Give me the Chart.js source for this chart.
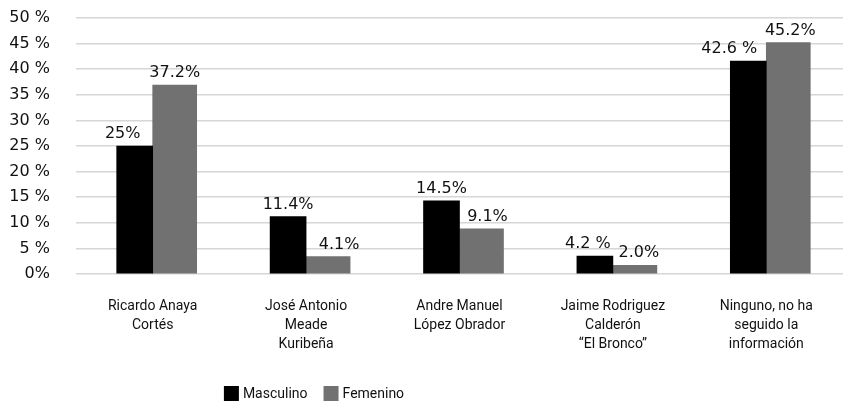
<!DOCTYPE html>
<html>
<head>
<meta charset="utf-8">
<script src="https://cdn.jsdelivr.net/npm/chart.js"></script>
<style>
  html, body { margin: 0; padding: 0; background: #fff; overflow: hidden; }
  #wrap { width: 844px; height: 401px; }
</style>
</head>
<body>
<div id="wrap"><canvas id="chart" width="844" height="401"></canvas></div>
<script>
// candidates (multi-line category labels)
const candidates = [
  ['Ricardo Anaya', 'Cortés'],
  ['José Antonio', 'Meade', 'Kuribeña'],
  ['Andre Manuel', 'López Obrador'],
  ['Jaime Rodriguez', 'Calderón', '\u201cEl Bronco\u201d'],
  ['Ninguno, no ha', 'seguido la', 'información']
];

// bar heights as drawn in the picture (%)
const masculino = [25, 11.2, 14.3, 3.5, 41.6];
const femenino = [36.9, 3.4, 8.8, 1.7, 45.2];

// printed value labels
const masculinoLabels = ['25%', '11.4%', '14.5%', '4.2 %', '42.6 %'];
const femeninoLabels = ['37.2%', '4.1%', '9.1%', '2.0%', '45.2%'];

const yTicks = [0, 5, 10, 15, 20, 25, 30, 35, 40, 45, 50];

const narrow = 'Roboto, sans-serif';
const wide = '"DejaVu Sans", sans-serif';

// value labels above each bar
const valueLabels = {
  id: 'valueLabels',
  afterDatasetsDraw(chart) {
    const ctx = chart.ctx;
    const texts = [masculinoLabels, femeninoLabels];
    const nudge = [[-12, 0, 0, -7, -19], [0, 11, 6, 4, 2]];
    ctx.save();
    ctx.font = '16px ' + wide;
    ctx.fillStyle = '#111';
    ctx.textAlign = 'center';
    ctx.textBaseline = 'middle';
    chart.data.datasets.forEach((ds, di) => {
      chart.getDatasetMeta(di).data.forEach((bar, i) => {
        ctx.fillText(texts[di][i], bar.x + nudge[di][i], bar.y - 12);
      });
    });
    ctx.restore();
  }
};

// legend under the axis labels
const bottomLegend = {
  id: 'bottomLegend',
  afterDraw(chart) {
    const ctx = chart.ctx;
    ctx.save();
    ctx.font = '14px ' + narrow;
    ctx.textBaseline = 'middle';
    const box = 15, gap = 4, spacing = 16;
    const items = chart.data.datasets.map(ds => ({ text: ds.label, color: ds.backgroundColor }));
    let total = 0;
    items.forEach((it, i) => {
      it.w = ctx.measureText(it.text).width;
      total += box + gap + it.w + (i ? spacing : 0);
    });
    let x = 314 - total / 2;
    const y = 394;
    items.forEach(it => {
      ctx.fillStyle = it.color;
      ctx.fillRect(x, y - 8, box, box);
      ctx.fillStyle = '#111';
      ctx.fillText(it.text, x + box + gap, y);
      x += box + gap + it.w + spacing;
    });
    ctx.restore();
  }
};

new Chart(document.getElementById('chart'), {
  type: 'bar',
  data: {
    labels: candidates,
    datasets: [
      { label: 'Masculino', data: masculino, backgroundColor: '#000000', barThickness: 36 },
      { label: 'Femenino', data: femenino, backgroundColor: '#717171', barThickness: 44 }
    ]
  },
  options: {
    responsive: false,
    animation: false,
    layout: { padding: { top: 0, right: 1, bottom: 0, left: 0 } },
    plugins: {
      legend: { display: false },
      tooltip: { enabled: false }
    },
    scales: {
      x: {
        grid: { display: false },
        border: { display: false },
        ticks: {
          color: '#111',
          font: { family: narrow, size: 14, lineHeight: 1.36 },
          padding: 15,
          maxRotation: 0,
          autoSkip: false
        },
        afterFit(scale) { scale.height = 127; }
      },
      y: {
        min: 0,
        max: 50,
        afterBuildTicks(scale) { scale.ticks = yTicks.map(v => ({ value: v })); },
        grid: { color: '#d6d6d6', lineWidth: 1.6, drawTicks: false },
        border: { display: false },
        ticks: {
          color: '#111',
          font: { family: wide, size: 16 },
          padding: 26,
          callback: v => (v === 0 ? '0%' : v + ' %')
        },
        afterFit(scale) {
          scale.width = 76;
          scale.paddingTop = 18;
          scale.paddingBottom = 0;
        }
      }
    }
  },
  plugins: [valueLabels, bottomLegend]
});
</script>
</body>
</html>
